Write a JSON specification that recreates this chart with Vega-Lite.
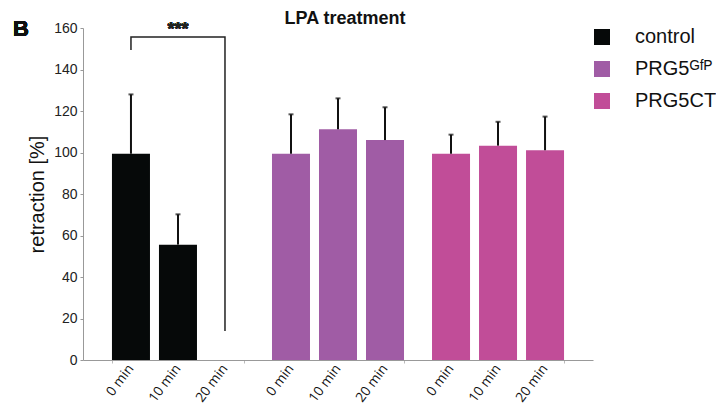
{
  "$schema": "https://vega.github.io/schema/vega-lite/v6.json",
  "autosize": "none",
  "width": 510,
  "height": 332,
  "padding": {"left": 83, "top": 28, "right": 123, "bottom": 48},
  "background": "white",
  "config": {
    "view": {"stroke": null},
    "font": "Liberation Sans"
  },
  "title": {
    "text": "LPA treatment",
    "font": "Liberation Sans",
    "fontSize": 18,
    "fontWeight": "bold",
    "color": "#111",
    "anchor": "middle",
    "frame": "group",
    "baseline": "alphabetic",
    "offset": -24,
    "dx": 7
  },
  "datasets": {
    "bars": [
      {"group": "control", "time": "0 min", "value": 99.4, "upper": 128.0},
      {"group": "control", "time": "10 min", "value": 55.6, "upper": 70.2},
      {"group": "control", "time": "20 min", "value": 0, "upper": null},
      {"group": "PRG5GFP", "time": "0 min", "value": 99.4, "upper": 118.4},
      {"group": "PRG5GFP", "time": "10 min", "value": 111.2, "upper": 126.1},
      {"group": "PRG5GFP", "time": "20 min", "value": 106.0, "upper": 121.8},
      {"group": "PRG5CT", "time": "0 min", "value": 99.4, "upper": 108.6},
      {"group": "PRG5CT", "time": "10 min", "value": 103.3, "upper": 114.8},
      {"group": "PRG5CT", "time": "20 min", "value": 101.1, "upper": 117.3}
    ],
    "bracket": [
      {"group": "control", "time": "0 min", "y": 149.4, "order": 1},
      {"group": "control", "time": "0 min", "y": 155.7, "order": 2},
      {"group": "control", "time": "20 min", "y": 155.7, "order": 3},
      {"group": "control", "time": "20 min", "y": 14, "order": 4}
    ]
  },
  "data": {"name": "bars"},
  "encoding": {
    "x": {
      "field": "group",
      "type": "nominal",
      "sort": ["control", "PRG5GFP", "PRG5CT"],
      "scale": {"domain": ["control", "PRG5GFP", "PRG5CT"], "paddingInner": 0.175, "paddingOuter": 0.181},
      "axis": {
        "title": null,
        "labels": false,
        "tickBand": "extent",
        "tickSize": 3,
        "tickColor": "#bbb",
        "domainColor": "#999",
        "domainWidth": 1
      }
    },
    "xOffset": {
      "field": "time",
      "type": "nominal",
      "scale": {"domain": ["0 min", "10 min", "20 min"], "paddingInner": 0.1915, "paddingOuter": 0}
    }
  },
  "layer": [
    {
      "mark": {"type": "bar"},
      "encoding": {
        "y": {
          "field": "value",
          "type": "quantitative",
          "scale": {"domain": [0, 160], "nice": false},
          "axis": {
            "values": [0, 20, 40, 60, 80, 100, 120, 140, 160],
            "grid": false,
            "title": "retraction [%]",
            "titleFont": "Liberation Sans",
            "titleFontSize": 20,
            "titleFontWeight": "normal",
            "titleColor": "#111",
            "titlePadding": 6,
            "labelFont": "Liberation Sans",
            "labelFontSize": 14,
            "labelColor": "#222",
            "labelPadding": 3,
            "tickSize": 3,
            "tickColor": "#999",
            "domainColor": "#999"
          }
        },
        "color": {
          "field": "group",
          "type": "nominal",
          "scale": {"domain": ["control", "PRG5GFP", "PRG5CT"], "range": ["#060909", "#A05CA5", "#C14D98"]},
          "legend": {
            "title": null,
            "orient": "none",
            "legendX": 509,
            "legendY": -1,
            "padding": 0,
            "symbolType": "square",
            "symbolSize": 256,
            "symbolStrokeWidth": 0,
            "labelFont": "Liberation Sans",
            "labelFontSize": 20,
            "labelColor": "#111",
            "labelOffset": 23,
            "rowPadding": 12,
            "labelExpr": "datum.label == 'PRG5GFP' ? 'PRG5ᴳᶠᴾ' : datum.label"
          }
        }
      }
    },
    {
      "transform": [{"filter": "datum.upper != null"}],
      "mark": {"type": "rule", "color": "#111", "strokeWidth": 2},
      "encoding": {
        "y": {"field": "value", "type": "quantitative"},
        "y2": {"field": "upper"}
      }
    },
    {
      "transform": [{"filter": "datum.upper != null"}],
      "mark": {"type": "tick", "color": "#111", "orient": "horizontal", "size": 5, "thickness": 2},
      "encoding": {
        "y": {"field": "upper", "type": "quantitative"}
      }
    },
    {
      "mark": {"type": "text", "font": "Open Sans", "fontSize": 13.5, "angle": -53, "align": "right", "baseline": "middle", "color": "#111"},
      "encoding": {
        "y": {"datum": -3},
        "text": {"field": "time"}
      }
    },
    {
      "data": {"name": "bracket"},
      "mark": {"type": "line", "color": "#222", "strokeWidth": 1.5},
      "encoding": {
        "y": {"field": "y", "type": "quantitative"},
        "order": {"field": "order"}
      }
    },
    {
      "mark": {"type": "text", "text": "***", "font": "Liberation Sans", "fontSize": 18, "fontWeight": "bold", "baseline": "top", "color": "#222"},
      "encoding": {
        "x": {"datum": "control"},
        "xOffset": {"datum": "10 min"},
        "y": {"datum": 163.5}
      }
    },
    {
      "mark": {"type": "text", "text": "B", "font": "Liberation Sans", "fontSize": 22, "fontWeight": "bold", "baseline": "middle", "align": "center", "dx": -110, "color": "#111"},
      "encoding": {
        "x": {"datum": "control"},
        "xOffset": {"datum": "0 min"},
        "y": {"datum": 159.6}
      }
    }
  ]
}
